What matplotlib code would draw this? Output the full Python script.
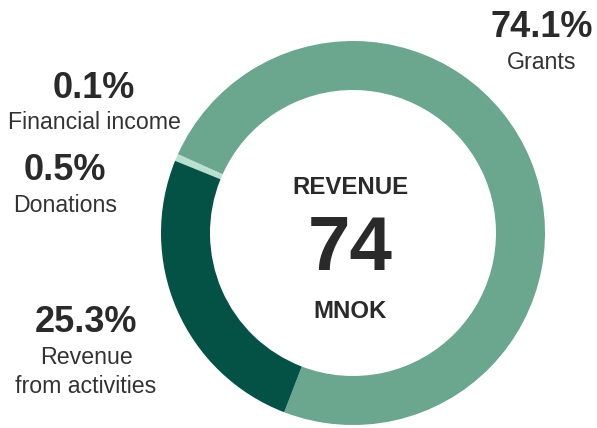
import matplotlib.pyplot as plt

# revenue split (%), counterclockwise from the grants start
labels = ["Grants", "Financial income", "Donations", "Revenue\nfrom activities"]
shares = [74.1, 0.1, 0.5, 25.3]
colors = ["#6ba68f", "#a9d6c3", "#b8e0cf", "#045246"]

total = "74"
unit = "MNOK"
title = "REVENUE"

plt.rcParams['font.family'] = ['Liberation Sans', 'DejaVu Sans']
txt = "#2a2a2a"

fig = plt.figure(figsize=(5.97, 4.28), dpi=100)
ax = fig.add_axes([0, 0, 1, 1])

H = 428
cx, cy = 353, H - 233
ax.pie(shares, colors=colors, startangle=249, counterclock=True,
       center=(cx, cy), radius=192,
       wedgeprops=dict(width=49, linewidth=0))
ax.set_xlim(0, 597)
ax.set_ylim(0, H)
ax.set_aspect('equal')
ax.axis('off')

# centre text
ax.text(cx - 3, H - 187, title, ha='center', va='center', fontsize=17.3,
        fontweight='bold', color=txt)
ax.text(cx - 3, H - 251, total, ha='center', va='center', fontsize=55,
        fontweight='bold', color=txt)
ax.text(cx - 3, H - 312, unit, ha='center', va='center', fontsize=17.3,
        fontweight='bold', color=txt)

# outside labels: (x, y of pct, y of name)
pos = [(542, 27, 62), (94, 88, 122), (65, 170, 205), (86, 322, 372)]
for (x, yp, yn), lab, s in zip(pos, labels, shares):
    ax.text(x, H - yp, f"{s}%", ha='center', va='center', fontsize=26,
            fontweight='bold', color=txt)
    ax.text(x, H - yn, lab, ha='center', va='center', fontsize=16.7,
            color="#333333", linespacing=1.3)

fig.savefig("out.png", dpi=100)
